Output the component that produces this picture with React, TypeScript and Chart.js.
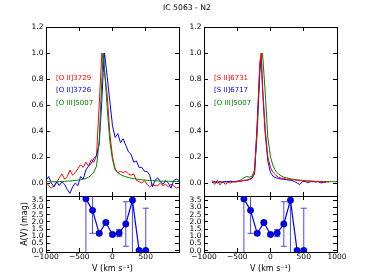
import React, { useEffect, useRef } from 'react';
import { Chart, registerables } from 'chart.js';

Chart.register(...registerables);

const PAGE_W = 374;
const PAGE_H = 280;
const FONT = "'DejaVu Sans', sans-serif";

const TITLE = 'IC 5063 - N2';

// velocity grid (km/s)
const V = [-1000, -960, -920, -880, -840, -800, -760, -720, -680, -640, -600, -560, -520, -480, -440, -400, -360, -320, -280, -240, -200, -160, -140, -120, -80, -40, 0, 40, 80, 120, 160, 200, 240, 280, 320, 360, 400, 440, 480, 520, 560, 600, 640, 680, 720, 760, 800, 840, 880, 920, 960, 1000];

// left panel profiles
const O2_3729 = [0.01, -0.02, -0.04, -0.02, 0.0, 0.04, 0.07, 0.03, 0.05, 0.1, 0.06, 0.08, 0.11, 0.14, 0.12, 0.16, 0.13, 0.18, 0.16, 0.21, 0.6, 1.0, 0.95, 0.85, 0.68, 0.38, 0.2, 0.11, 0.08, 0.09, 0.08, 0.09, 0.07, 0.06, 0.07, 0.02, 0.01, 0.0, 0.02, -0.01, -0.03, -0.01, -0.02, -0.02, 0.0, -0.02, -0.01, -0.03, -0.01, -0.02, -0.04, -0.03];
const O2_3726 = [0.02, 0.05, 0.0, -0.03, 0.01, -0.02, 0.01, -0.01, -0.05, -0.08, -0.03, 0.0, -0.02, 0.05, 0.03, 0.1, 0.13, 0.15, 0.19, 0.21, 0.3, 0.64, 0.85, 1.0, 0.82, 0.63, 0.44, 0.35, 0.38, 0.31, 0.34, 0.29, 0.24, 0.22, 0.16, 0.17, 0.12, 0.12, 0.09, 0.09, 0.06, -0.03, 0.02, 0.04, 0.01, -0.01, 0.02, 0.0, -0.04, 0.02, 0.03, 0.02];
const O3_5007_A = [0.01, 0.01, 0.01, 0.01, 0.01, 0.01, 0.012, 0.012, 0.015, 0.015, 0.018, 0.02, 0.022, 0.025, 0.03, 0.035, 0.045, 0.06, 0.085, 0.13, 0.32, 0.8, 1.0, 0.88, 0.58, 0.32, 0.18, 0.1, 0.08, 0.065, 0.055, 0.048, 0.042, 0.037, 0.033, 0.03, 0.027, 0.025, 0.023, 0.021, 0.02, 0.018, 0.017, 0.016, 0.015, 0.014, 0.013, 0.013, 0.012, 0.012, 0.012, 0.012];

// right panel profiles
const S2_6731 = [null, null, null, 0.02, -0.01, 0.02, -0.015, 0.01, -0.01, 0.005, 0.0, 0.01, 0.008, 0.012, 0.015, 0.02, 0.022, 0.03, 0.04, 0.08, 0.45, 0.93, 1.0, 0.75, 0.42, 0.2, 0.12, 0.08, 0.06, 0.045, 0.038, 0.035, 0.03, 0.03, 0.025, 0.025, 0.02, 0.02, 0.018, 0.015, 0.015, 0.015, 0.012, 0.01, 0.012, 0.01, 0.008, 0.01, 0.005, null, null, null];
const S2_6717 = [null, null, null, 0.005, 0.01, 0.0, 0.01, 0.005, 0.01, 0.01, 0.015, 0.01, 0.01, 0.015, 0.015, 0.02, 0.02, 0.025, 0.035, 0.07, 0.45, 0.9, 0.97, 0.72, 0.38, 0.17, 0.08, 0.05, 0.04, 0.035, 0.03, 0.028, 0.025, 0.022, 0.02, 0.012, 0.0, -0.012, 0.01, 0.012, 0.002, 0.01, 0.01, 0.008, 0.01, 0.0, 0.005, 0.008, null, null, null, null];
const O3_5007_B = [null, null, null, 0.008, 0.008, 0.008, 0.008, 0.009, 0.009, 0.01, 0.01, 0.01, 0.012, 0.015, 0.025, 0.04, 0.05, 0.045, 0.05, 0.1, 0.38, 0.85, 0.97, 1.0, 0.7, 0.35, 0.2, 0.13, 0.09, 0.07, 0.055, 0.045, 0.04, 0.035, 0.03, 0.027, 0.024, 0.022, 0.02, 0.018, 0.016, 0.015, 0.014, 0.013, 0.012, 0.012, 0.011, 0.01, 0.01, 0.01, 0.01, 0.01];

// extinction
const AV_V = [-400, -300, -200, -100, 0, 100, 200, 300, 400, 500];
const AV = [3.6, 2.8, 1.2, 1.95, 1.12, 1.22, 1.85, 3.5, 0.0, 0.0];
const AV_ERR = [4.5, 1.6, 0.1, 0.1, 0.1, 0.25, 1.55, 4.5, 0, 2.95];

const X_TICKS = [-1000, -500, 0, 500, 1000];
const SPEC_Y_TICKS = [0, 0.2, 0.4, 0.6, 0.8, 1.0, 1.2];
const AV_Y_TICKS = [0, 0.5, 1.0, 1.5, 2.0, 2.5, 3.0, 3.5];

const LEFT_LABELS = ['[O II]3729', '[O II]3726', '[O III]5007'];
const RIGHT_LABELS = ['[S II]6731', '[S II]6717', '[O III]5007'];
const LABEL_COLORS = ['#ff0000', '#0000ff', '#008000'];
const LABEL_X = -850;
const LABEL_Y = [0.81, 0.715, 0.615];

const RED = '#ff0000';
const BLUE = '#0000ff';
const GREEN = '#008000';

type Box = { left: number; right: number; top: number; bottom: number };

const pts = (xs: number[], ys: (number | null)[]) =>
  xs.map((x, i) => ({ x, y: ys[i] })).filter((p) => p.y !== null && p.y !== undefined);

const fmt = (v: number, d: number) => {
  const s = Math.abs(v).toFixed(d);
  return v < 0 ? '\u2212' + s : s;
};

const specLine = (data: any[], color: string) => ({
  data,
  borderColor: color,
  backgroundColor: color,
  borderWidth: 1,
  pointRadius: 0,
  tension: 0,
  xAxisID: 'x',
  yAxisID: 'y',
});

function avDatasets() {
  const out: any[] = [
    {
      data: pts(AV_V, AV),
      borderColor: BLUE,
      borderWidth: 1.2,
      pointRadius: 3.2,
      pointBackgroundColor: BLUE,
      pointBorderColor: '#000033',
      pointBorderWidth: 0.5,
      tension: 0,
      xAxisID: 'x',
      yAxisID: 'y',
    },
  ];
  AV_V.forEach((x, i) => {
    if (AV_ERR[i] > 0) {
      out.push({
        data: [
          { x, y: AV[i] - AV_ERR[i] },
          { x, y: AV[i] + AV_ERR[i] },
        ],
        borderColor: 'rgba(40,40,255,0.85)',
        borderWidth: 1,
        pointStyle: 'line',
        pointRadius: 3,
        pointBorderWidth: 1,
        pointBorderColor: 'rgba(40,40,255,0.85)',
        tension: 0,
        clip: 0,
        xAxisID: 'x',
        yAxisID: 'y',
      });
    }
  });
  return out;
}

function textPlugin(labels: string[] | null, showTitle: boolean) {
  return {
    id: 'texts',
    afterDatasetsDraw(chart: any) {
      const { ctx, scales } = chart;
      ctx.save();
      if (labels) {
        ctx.font = `7px ${FONT}`;
        ctx.textAlign = 'left';
        ctx.textBaseline = 'middle';
        labels.forEach((t, i) => {
          ctx.fillStyle = LABEL_COLORS[i];
          ctx.fillText(t, scales.x.getPixelForValue(LABEL_X), scales.y.getPixelForValue(LABEL_Y[i]));
        });
      }
      if (showTitle) {
        ctx.font = `7.7px ${FONT}`;
        ctx.fillStyle = '#000';
        ctx.textAlign = 'center';
        ctx.textBaseline = 'middle';
        ctx.fillText(TITLE, 187, 8);
      }
      ctx.restore();
    },
  };
}

function panelConfig(p: {
  box: Box;
  datasets: any[];
  yMin: number;
  yMax: number;
  yTicks: number[];
  xLabels: boolean;
  hideXMax?: boolean;
  xTitle?: string;
  yTitle?: string;
  labels?: string[] | null;
  title?: boolean;
}) {
  const tickFont = { family: FONT, size: 7.5 };
  const grid = { display: true, drawOnChartArea: false, drawTicks: true, tickLength: -4, color: '#000', lineWidth: 1 };
  const border = { display: true, color: '#000', width: 1 };
  const zeroPad = (s: any) => {
    s.paddingLeft = 0;
    s.paddingRight = 0;
    s.paddingTop = 0;
    s.paddingBottom = 0;
  };
  const fixW = (w: number) => (s: any) => {
    s.width = w;
    zeroPad(s);
  };
  const fixH = (h: number) => (s: any) => {
    s.height = h;
    zeroPad(s);
  };
  const setTicks = (vals: number[]) => (s: any) => {
    s.ticks = vals.map((v) => ({ value: v }));
  };
  return {
    type: 'line',
    data: { datasets: p.datasets },
    options: {
      responsive: false,
      animation: false,
      devicePixelRatio: 1,
      events: [],
      layout: {
        autoPadding: false,
        padding: { left: 0, top: p.box.top, right: PAGE_W - p.box.right, bottom: 0 },
      },
      plugins: { legend: { display: false }, tooltip: { enabled: false }, title: { display: false } },
      scales: {
        x: {
          type: 'linear',
          position: 'bottom',
          min: -1000,
          max: 1000,
          afterBuildTicks: setTicks(X_TICKS),
          afterFit: fixH(PAGE_H - p.box.bottom),
          grid,
          border,
          ticks: {
            display: p.xLabels,
            font: tickFont,
            color: '#000',
            padding: 5,
            autoSkip: false,
            maxRotation: 0,
            minRotation: 0,
            callback: (v: number) => (p.hideXMax && v === 1000 ? '' : fmt(v, 0)),
          },
          title: p.xTitle
            ? { display: true, text: p.xTitle, color: '#000', font: { family: FONT, size: 8 }, padding: { top: 0, bottom: 6.7 } }
            : { display: false },
        },
        xTop: {
          axis: 'x',
          type: 'linear',
          position: 'top',
          min: -1000,
          max: 1000,
          afterBuildTicks: setTicks(X_TICKS),
          afterFit: fixH(0),
          grid,
          border,
          ticks: { display: false },
        },
        y: {
          type: 'linear',
          position: 'left',
          min: p.yMin,
          max: p.yMax,
          afterBuildTicks: setTicks(p.yTicks),
          afterFit: fixW(p.box.left),
          grid,
          border,
          ticks: {
            font: tickFont,
            color: '#000',
            padding: 6.5,
            autoSkip: false,
            callback: (v: number) => fmt(v, 1),
          },
          title: p.yTitle
            ? { display: true, text: p.yTitle, color: '#000', font: { family: FONT, size: 8 }, padding: { top: 20.2, bottom: 0 } }
            : { display: false },
        },
        yRight: {
          axis: 'y',
          type: 'linear',
          position: 'right',
          min: p.yMin,
          max: p.yMax,
          afterBuildTicks: setTicks(p.yTicks),
          afterFit: fixW(0),
          grid,
          border,
          ticks: { display: false },
        },
      },
    },
    plugins: [textPlugin(p.labels || null, !!p.title)],
  };
}

const BOX_TL: Box = { left: 46, right: 179, top: 27, bottom: 196 };
const BOX_TR: Box = { left: 204, right: 337, top: 27, bottom: 196 };
const BOX_BL: Box = { left: 46, right: 179, top: 196, bottom: 252 };
const BOX_BR: Box = { left: 204, right: 337, top: 196, bottom: 252 };

const configs = [
  () =>
    panelConfig({
      box: BOX_TL,
      datasets: [specLine(pts(V, O3_5007_A), GREEN), specLine(pts(V, O2_3726), BLUE), specLine(pts(V, O2_3729), RED)],
      yMin: -0.1,
      yMax: 1.2,
      yTicks: SPEC_Y_TICKS,
      xLabels: false,
      labels: LEFT_LABELS,
      title: true,
    }),
  () =>
    panelConfig({
      box: BOX_TR,
      datasets: [specLine(pts(V, S2_6731), RED), specLine(pts(V, S2_6717), BLUE), specLine(pts(V, O3_5007_B), GREEN)],
      yMin: -0.1,
      yMax: 1.2,
      yTicks: SPEC_Y_TICKS,
      xLabels: false,
      labels: RIGHT_LABELS,
    }),
  () =>
    panelConfig({
      box: BOX_BL,
      datasets: avDatasets(),
      yMin: -0.1,
      yMax: 3.8,
      yTicks: AV_Y_TICKS,
      xLabels: true,
      hideXMax: true,
      xTitle: 'V (km s\u207B\u00B9)',
      yTitle: 'A(V) (mag)',
    }),
  () =>
    panelConfig({
      box: BOX_BR,
      datasets: avDatasets(),
      yMin: -0.1,
      yMax: 3.8,
      yTicks: AV_Y_TICKS,
      xLabels: true,
      xTitle: 'V (km s\u207B\u00B9)',
    }),
];

function Panel({ make }: { make: () => any }) {
  const ref = useRef<HTMLCanvasElement | null>(null);
  useEffect(() => {
    const chart = new Chart(ref.current as HTMLCanvasElement, make());
    return () => chart.destroy();
  }, []);
  return (
    <canvas
      ref={ref}
      width={PAGE_W}
      height={PAGE_H}
      style={{ position: 'absolute', left: 0, top: 0, width: PAGE_W, height: PAGE_H }}
    />
  );
}

export default function App() {
  return (
    <div style={{ position: 'fixed', left: 0, top: 0, width: PAGE_W, height: PAGE_H, background: '#fff', overflow: 'hidden' }}>
      {configs.map((c, i) => (
        <Panel key={i} make={c} />
      ))}
    </div>
  );
}
